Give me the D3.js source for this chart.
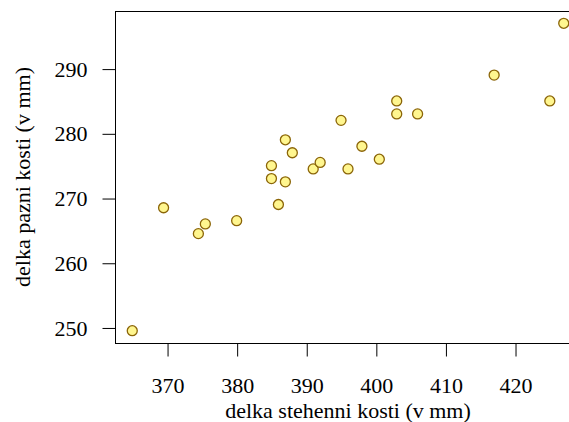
<!DOCTYPE html>
<html>
<head>
<meta charset="utf-8">
<script src="https://cdn.jsdelivr.net/npm/d3@7"></script>
<style>
  body { margin: 0; background: #fff; }
  svg { display: block; }
</style>
</head>
<body>
<div id="grafico"></div>
<script>
// delka stehenni kosti (x) a delka pazni kosti (y), v mm
const stehenni = [365, 369.5, 374.5, 375.5, 380, 385, 385, 386, 387, 387, 388, 391, 392, 395, 396, 398, 400.5, 403, 403, 406, 417, 425, 427];
const pazni    = [249.5, 268.5, 264.5, 266, 266.5, 275, 273, 269, 279, 272.5, 277, 274.5, 275.5, 282, 274.5, 278, 276, 285, 283, 283, 289, 285, 297];
const ticksX = [370, 380, 390, 400, 410, 420];
const ticksY = [250, 260, 270, 280, 290];

const ancho = 569, alto = 422;
const izq = 115, arriba = 11, abajo = 343, der = 581;
const fuente = "Liberation Serif, serif";

// como en R: rango de datos +4% por cada lado
const rango = v => {
  const [a, b] = d3.extent(v);
  const d = (b - a) * 0.04;
  return [a - d, b + d];
};

const x = d3.scaleLinear().domain(rango(stehenni)).range([izq, der]);
const y = d3.scaleLinear().domain(rango(pazni)).range([abajo, arriba]);

const $svg = d3.select("#grafico")
  .append("svg")
  .attr("width", ancho)
  .attr("height", alto)
  .attr("font-family", fuente)
  .attr("font-size", 22);

// CAJA
$svg.append("rect")
  .attr("x", izq + 0.5)
  .attr("y", arriba + 0.5)
  .attr("width", der - izq)
  .attr("height", abajo - arriba)
  .attr("fill", "none")
  .attr("stroke", "#000")
  .attr("stroke-width", 1);

// EJES
const ejeX = $svg.append("g")
  .attr("transform", `translate(0.5, ${abajo + 0.5})`)
  .call(d3.axisBottom(x).tickValues(ticksX).tickSize(13).tickPadding(21).tickFormat(d3.format("d")));

const ejeY = $svg.append("g")
  .attr("transform", `translate(${izq + 0.5}, 0.5)`)
  .call(d3.axisLeft(y).tickValues(ticksY).tickSize(13).tickPadding(15).tickFormat(d3.format("d")));

[ejeX, ejeY].forEach(eje => {
  eje.attr("font-family", fuente).attr("font-size", 22);
  eje.select(".domain").remove();
  eje.selectAll("line").attr("stroke", "#000");
  eje.selectAll("text").attr("fill", "#000");
});

// PUNTOS
$svg.append("g")
  .selectAll("circle")
  .data(stehenni.map((v, i) => [v, pazni[i]]))
  .join("circle")
  .attr("cx", d => x(d[0]))
  .attr("cy", d => y(d[1]))
  .attr("r", 5)
  .attr("fill", "#FFF68F")
  .attr("stroke", "#8B6508")
  .attr("stroke-width", 1.3);

// TITULOS
$svg.append("text")
  .attr("x", (izq + der) / 2)
  .attr("y", 418)
  .attr("text-anchor", "middle")
  .text("delka stehenni kosti (v mm)");

$svg.append("text")
  .attr("transform", `translate(30, ${(arriba + abajo) / 2}) rotate(-90)`)
  .attr("text-anchor", "middle")
  .text("delka pazni kosti (v mm)");
</script>
</body>
</html>
